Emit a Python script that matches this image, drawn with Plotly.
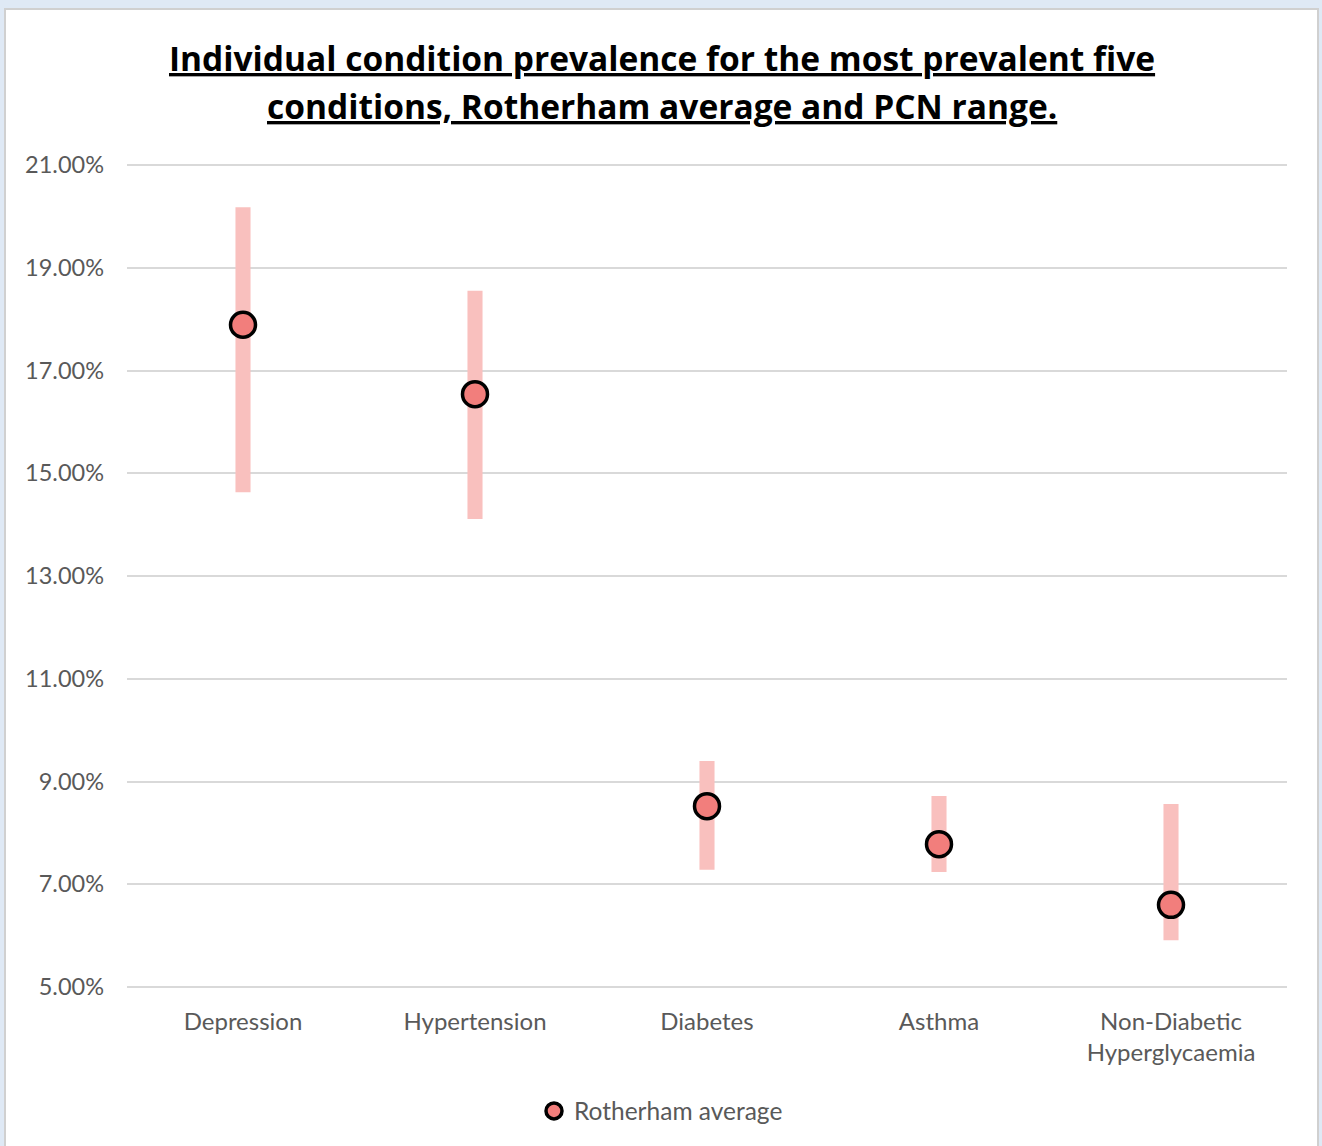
import plotly.graph_objects as go

# Condition prevalence (%): PCN minimum, PCN maximum and Rotherham average
conditions = ["Depression", "Hypertension", "Diabetes", "Asthma", "Non-Diabetic<br>Hyperglycaemia"]
pcn_min = [14.63, 14.11, 7.28, 7.24, 5.91]
pcn_max = [20.18, 18.55, 9.40, 8.72, 8.56]
rotherham_avg = [17.89, 16.54, 8.52, 7.78, 6.60]
y_ticks = [5, 7, 9, 11, 13, 15, 17, 19, 21]

W, H = 1322, 1146
FONT = "Lato"
GREY = "#595959"

# plot area in pixels: 21% sits at y=165, 5% at y=987; pad range slightly so edge gridlines show
Y_LO, Y_HI = 4.9, 21.1
px_per_unit = (987 - 165) / (21 - 5)
top_px = 165 - (Y_HI - 21) * px_per_unit
bot_px = 987 + (5 - Y_LO) * px_per_unit

range_span = [hi - lo for hi, lo in zip(pcn_max, pcn_min)]

fig = go.Figure()

# PCN range drawn as narrow floating bars
fig.add_trace(go.Bar(
    x=conditions,
    y=range_span,
    base=pcn_min,
    width=0.065,
    marker=dict(color="#F9C0BE", line=dict(width=0)),
    showlegend=False,
    hoverinfo="skip",
))

# Rotherham average markers
fig.add_trace(go.Scatter(
    x=conditions,
    y=rotherham_avg,
    mode="markers",
    name="Rotherham average",
    marker=dict(size=25, color="#F27E7C", line=dict(color="#000000", width=3.5)),
))

fig.update_layout(
    width=W,
    height=H,
    margin=dict(l=0, r=0, t=0, b=0, autoexpand=False),
    paper_bgcolor="#DFE9F5",
    plot_bgcolor="rgba(0,0,0,0)",
    font=dict(family=FONT, color=GREY, size=22),
    showlegend=True,
    legend=dict(
        orientation="h",
        x=0.5, xanchor="center",
        y=1 - 1111 / H, yanchor="middle",
        font=dict(family=FONT, size=24.5, color=GREY),
        bgcolor="rgba(0,0,0,0)",
    ),
    xaxis=dict(
        domain=[127 / W, 1287 / W],
        type="category",
        range=[-0.5, 4.5],
        showgrid=False,
        zeroline=False,
        showline=False,
        ticks="",
        automargin=False,
        ticklabelstandoff=13,
        tickfont=dict(family=FONT, size=24, color=GREY),
    ),
    yaxis=dict(
        domain=[1 - bot_px / H, 1 - top_px / H],
        range=[Y_LO, Y_HI],
        tickvals=y_ticks,
        ticktext=[f"{v:.2f}%" for v in y_ticks],
        showgrid=True,
        gridcolor="#D9D9D9",
        gridwidth=2,
        zeroline=False,
        showline=False,
        ticks="",
        automargin=False,
        ticklabelstandoff=22,
        tickfont=dict(family=FONT, size=23.5, color=GREY),
    ),
    shapes=[
        dict(
            type="rect", xref="paper", yref="paper",
            x0=5 / W, x1=1318 / W, y0=-0.02, y1=1 - 9 / H,
            fillcolor="white", line=dict(color="#D0D0D0", width=2),
            layer="below",
        )
    ],
    annotations=[
        dict(
            text="<b><u>Individual condition prevalence for the most prevalent five</u></b>",
            xref="paper", yref="paper", x=662 / W, y=1 - 58 / H,
            xanchor="center", yanchor="middle", showarrow=False,
            font=dict(family="Open Sans", size=33.5, color="#000000"),
        ),
        dict(
            text="<b><u>conditions, Rotherham average and PCN range.</u></b>",
            xref="paper", yref="paper", x=662 / W, y=1 - 106 / H,
            xanchor="center", yanchor="middle", showarrow=False,
            font=dict(family="Open Sans", size=33.5, color="#000000"),
        ),
    ],
)

fig.write_html("out.html")
